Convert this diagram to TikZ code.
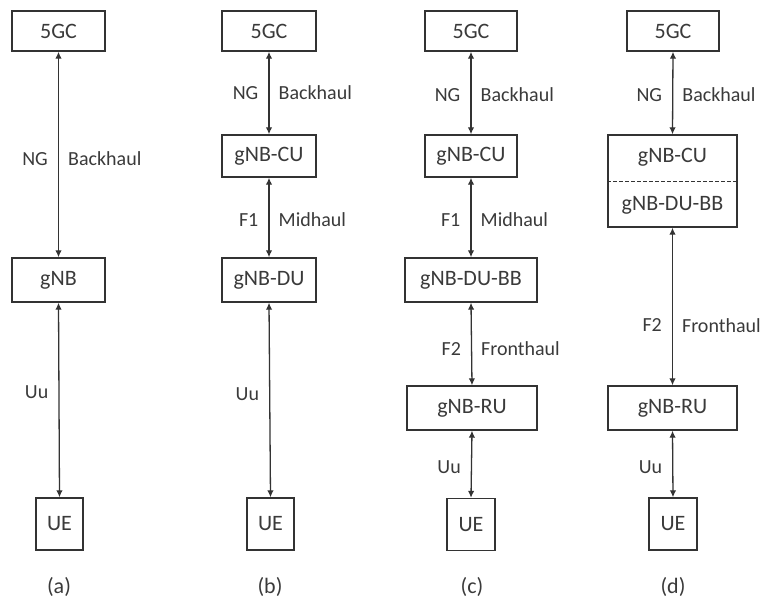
\documentclass[tikz,border=0pt]{standalone}
\usepackage{fontspec}
\setmainfont{Carlito}
\usetikzlibrary{arrows.meta}
\definecolor{ink}{HTML}{333333}
\definecolor{txt}{HTML}{3A3A3A}
\begin{document}
\begin{tikzpicture}[x=1pt,y=-1pt,
  box/.style={draw=ink,line width=1.4pt,inner sep=0pt,text=txt,
    font=\fontsize{22}{26}\selectfont},
  link/.style={draw=ink,line width=1.3pt,
    {Latex[length=7pt,width=6.5pt]}-{Latex[length=7pt,width=6.5pt]}},
  lbl/.style={text=txt,font=\fontsize{20}{24}\selectfont,inner sep=0pt},
  lw/.style={lbl,anchor=east,xshift=-10pt},
  le/.style={lbl,anchor=west,xshift=9pt},
  captxt/.style={text=txt,font=\fontsize{22}{26}\selectfont,inner sep=0pt}]
\useasboundingbox (0,0) rectangle (760,598);
% column (a)
\node[box,minimum width=93pt,minimum height=40pt] (a5) at (58.5,31) {5GC};
\node[box,minimum width=93pt,minimum height=44pt] (ag) at (58.5,280) {gNB};
\node[box,minimum width=47pt,minimum height=52pt] (aue) at (59.5,524) {UE};
\draw[link] (a5.south) -- (ag.north)
  node[lw,pos=0.52] {NG} node[le,pos=0.52] {Backhaul};
\draw[link] (ag.south) -- (aue.north) node[lw,pos=0.46] {Uu};
\node[captxt] (ca) at (59,587) {(a)};
% column (b)
\node[box,minimum width=94pt,minimum height=40pt] (b5) at (269,31) {5GC};
\node[box,minimum width=94pt,minimum height=42pt] (bcu) at (269,156) {gNB-CU};
\node[box,minimum width=94pt,minimum height=44pt] (bdu) at (269,280) {gNB-DU};
\node[box,minimum width=47pt,minimum height=52pt] (bue) at (270.5,524) {UE};
\draw[link] (b5.south) -- (bcu.north)
  node[lw,pos=0.5] {NG} node[le,pos=0.5] {Backhaul};
\draw[link] (bcu.south) -- (bdu.north)
  node[lw,pos=0.53] {F1} node[le,pos=0.53] {Midhaul};
\draw[link] (bdu.south) -- (bue.north) node[lw,pos=0.47] {Uu};
\node[captxt] (cb) at (270,587) {(b)};
% column (c)
\node[box,minimum width=92pt,minimum height=40pt] (c5) at (471,31) {5GC};
\node[box,minimum width=92pt,minimum height=42pt] (ccu) at (471,156) {gNB-CU};
\node[box,minimum width=132pt,minimum height=44pt] (cdu) at (471,280) {gNB-DU-BB};
\node[box,minimum width=130pt,minimum height=44pt] (cru) at (472,408) {gNB-RU};
\node[box,minimum width=48pt,minimum height=52pt] (cue) at (471,524.5) {UE};
\draw[link] (c5.south) -- (ccu.north)
  node[lw,pos=0.52] {NG} node[le,pos=0.52] {Backhaul};
\draw[link] (ccu.south) -- (cdu.north)
  node[lw,pos=0.53] {F1} node[le,pos=0.53] {Midhaul};
\draw[link] (cdu.south) -- (cru.north)
  node[lw,pos=0.56] {F2} node[le,pos=0.56] {Fronthaul};
\draw[link] (cru.south) -- (cue.north) node[lw,pos=0.54] {Uu};
\node[captxt] (cc) at (472,587) {(c)};
% column (d)
\node[box,minimum width=92pt,minimum height=40pt] (d5) at (673,31) {5GC};
\node[box,minimum width=129pt,minimum height=92pt] (dcu) at (672.5,181) {};
\node[text=txt,font=\fontsize{22}{26}\selectfont,inner sep=0pt] (dcut) at (672.5,157) {gNB-CU};
\node[text=txt,font=\fontsize{22}{26}\selectfont,inner sep=0pt] (ddut) at (672.5,205) {gNB-DU-BB};
\draw[ink,line width=0.8pt,dash pattern=on 4pt off 2pt] (dcu.west) -- (dcu.east);
\node[box,minimum width=129pt,minimum height=44pt] (dru) at (672.5,408) {gNB-RU};
\node[box,minimum width=48pt,minimum height=52pt] (due) at (673,524) {UE};
\draw[link] (d5.south) -- (dcu.north)
  node[lw,pos=0.52] {NG} node[le,pos=0.52] {Backhaul};
\draw[link] (dcu.south) -- (dru.north)
  node[lw,pos=0.62] {F2} node[le,pos=0.62] {Fronthaul};
\draw[link] (dru.south) -- (due.north) node[lw,pos=0.54] {Uu};
\node[captxt] (cd) at (673,587) {(d)};
\end{tikzpicture}
\end{document}
